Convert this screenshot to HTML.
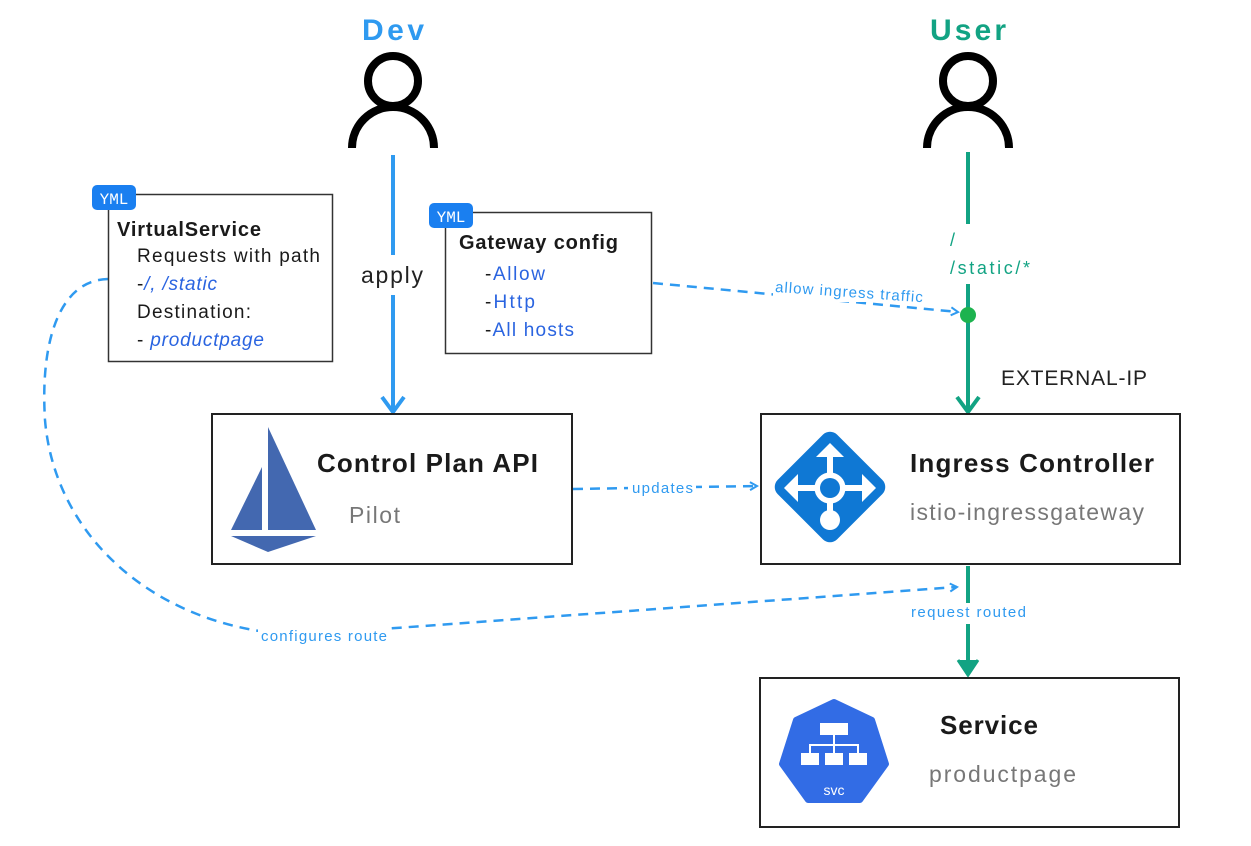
<!DOCTYPE html>
<html><head><meta charset="utf-8"><style>
body{margin:0;background:#fff;}
svg{display:block;font-family:"Liberation Sans",sans-serif;}
</style></head><body>
<svg width="1251" height="846" viewBox="0 0 1251 846">
<defs>
<marker id="ab" markerWidth="10" markerHeight="10" refX="8" refY="5" orient="auto" markerUnits="userSpaceOnUse"><path d="M1,1 L8,5 L1,9" fill="none" stroke="#2f9af0" stroke-width="2"/></marker>
</defs>
<text x="393" y="40" text-anchor="middle" font-size="30" font-weight="bold" fill="#2f9af0" textLength="62">Dev</text>
<text x="968" y="40" text-anchor="middle" font-size="30" font-weight="bold" fill="#12a383" textLength="76">User</text>
<g fill="none" stroke="#000" stroke-width="8">
<circle cx="393" cy="81" r="25"/>
<path d="M352,148 A41,41 0 0 1 434,148"/>
<circle cx="968" cy="81" r="25"/>
<path d="M927,148 A41,41 0 0 1 1009,148"/>
</g>
<line x1="393" y1="155" x2="393" y2="255" stroke="#2f9af0" stroke-width="4"/>
<line x1="393" y1="295" x2="393" y2="410" stroke="#2f9af0" stroke-width="4"/>
<path d="M382,397 L393,412 L404,397" fill="none" stroke="#2f9af0" stroke-width="4"/>
<text x="361" y="283" font-size="23" fill="#222" textLength="62">apply</text>
<line x1="968" y1="152" x2="968" y2="224" stroke="#12a383" stroke-width="4"/>
<line x1="968" y1="284" x2="968" y2="410" stroke="#12a383" stroke-width="4"/>
<path d="M957,397 L968,412 L979,397" fill="none" stroke="#12a383" stroke-width="4"/>
<text x="950" y="246" font-size="18" fill="#12a383">/</text>
<text x="950" y="274" font-size="18" fill="#12a383" textLength="80">/static/*</text>
<circle cx="968" cy="315" r="8" fill="#1db34f"/>
<text x="1001" y="385" font-size="21" fill="#222" textLength="146">EXTERNAL-IP</text>
<path d="M653,283 L958,312" fill="none" stroke="#2f9af0" stroke-width="2.5" stroke-dasharray="10,7" marker-end="url(#ab)"/>
<rect x="773" y="282" width="152" height="20" fill="#fff"/>
<text x="775" y="297" font-size="15" fill="#2f9af0" transform="rotate(4 849 292)" textLength="148">allow ingress traffic</text>
<path d="M573,489 L757,486" fill="none" stroke="#2f9af0" stroke-width="2.5" stroke-dasharray="10,7" marker-end="url(#ab)"/>
<rect x="628" y="478" width="68" height="18" fill="#fff"/>
<text x="632" y="493" font-size="15" fill="#2f9af0" textLength="61">updates</text>
<path d="M108,279 C60,280 40,340 45,420 C55,540 160,630 300,635 L957,587" fill="none" stroke="#2f9af0" stroke-width="2.5" stroke-dasharray="10,7" marker-end="url(#ab)"/>
<rect x="258" y="624" width="132" height="20" fill="#fff"/>
<text x="261" y="641" font-size="15" fill="#2f9af0" textLength="126">configures route</text>
<line x1="968" y1="566" x2="968" y2="603" stroke="#12a383" stroke-width="4"/>
<line x1="968" y1="624" x2="968" y2="674" stroke="#12a383" stroke-width="4"/>
<path d="M958,660 L968,675 L978,660" fill="#12a383" stroke="#12a383" stroke-width="3"/>
<text x="911" y="617" font-size="15" fill="#2f9af0" textLength="115">request routed</text>
<rect x="108.5" y="194.5" width="224" height="167" fill="#fff" stroke="#333" stroke-width="1.5"/>
<rect x="92" y="185" width="44" height="25" rx="5" fill="#1a7ff0"/>
<text x="114" y="204" text-anchor="middle" font-size="16" fill="#fff" font-family="Liberation Mono,monospace">YML</text>
<text x="117" y="236" font-size="20" font-weight="bold" fill="#1a1a1a" textLength="144">VirtualService</text>
<text x="137" y="262" font-size="19" fill="#1a1a1a" textLength="183">Requests with path</text>
<text x="137" y="290" font-size="19" fill="#1a1a1a" textLength="80">-<tspan fill="#2a64e0" font-style="italic">/, /static</tspan></text>
<text x="137" y="318" font-size="19" fill="#1a1a1a" textLength="114">Destination:</text>
<text x="137" y="346" font-size="19" fill="#1a1a1a" textLength="127">- <tspan fill="#2a64e0" font-style="italic">productpage</tspan></text>
<rect x="445.5" y="212.5" width="206" height="141" fill="#fff" stroke="#333" stroke-width="1.5"/>
<rect x="429" y="203" width="44" height="25" rx="5" fill="#1a7ff0"/>
<text x="451" y="222" text-anchor="middle" font-size="16" fill="#fff" font-family="Liberation Mono,monospace">YML</text>
<text x="459" y="249" font-size="20" font-weight="bold" fill="#1a1a1a" textLength="159">Gateway config</text>
<text x="485" y="280" font-size="19" fill="#1a1a1a" textLength="60">-<tspan fill="#2a64e0">Allow</tspan></text>
<text x="485" y="308" font-size="19" fill="#1a1a1a" textLength="50">-<tspan fill="#2a64e0">Http</tspan></text>
<text x="485" y="336" font-size="19" fill="#1a1a1a" textLength="89">-<tspan fill="#2a64e0">All hosts</tspan></text>
<rect x="212" y="414" width="360" height="150" fill="#fff" stroke="#222" stroke-width="2"/>
<g fill="#4368b0">
<path d="M268,427 L316,530 L268,530 Z"/>
<path d="M262,467 L262,530 L231,530 Z"/>
<path d="M231,536 L316,536 L268,552 Z"/>
</g>
<text x="317" y="472" font-size="26" font-weight="bold" fill="#1a1a1a" textLength="221">Control Plan API</text>
<text x="349" y="523" font-size="23" fill="#777" textLength="51">Pilot</text>
<rect x="761" y="414" width="419" height="150" fill="#fff" stroke="#222" stroke-width="2"/>
<rect x="788" y="445" width="84" height="84" rx="10" fill="#0f78d4" transform="rotate(45 830 487)"/>
<g fill="#fff" stroke="#fff">
<line x1="830" y1="455" x2="830" y2="515" stroke-width="6"/>
<line x1="796" y1="488" x2="864" y2="488" stroke-width="6"/>
<path d="M816,457 L830,443 L844,457 Z" stroke="none"/>
<path d="M798,474 L784,488 L798,502 Z" stroke="none"/>
<path d="M862,474 L876,488 L862,502 Z" stroke="none"/>
<circle cx="830" cy="488" r="15"/>
<circle cx="830" cy="520" r="10" stroke="none"/>
</g>
<circle cx="830" cy="488" r="10" fill="#0f78d4"/>
<text x="910" y="472" font-size="26" font-weight="bold" fill="#1a1a1a" textLength="244">Ingress Controller</text>
<text x="910" y="520" font-size="23" fill="#777" textLength="234">istio-ingressgateway</text>
<rect x="760" y="678" width="419" height="149" fill="#fff" stroke="#222" stroke-width="2"/>
<path d="M834,702 L872,720 L886,764 L860,800 L808,800 L782,764 L796,720 Z" fill="#326ce5" stroke="#326ce5" stroke-width="6" stroke-linejoin="round"/>
<g fill="#fff">
<rect x="820" y="723" width="28" height="12"/>
<rect x="801" y="753" width="18" height="12"/>
<rect x="825" y="753" width="18" height="12"/>
<rect x="849" y="753" width="18" height="12"/>
</g>
<g stroke="#fff" stroke-width="2" fill="none">
<path d="M834,735 L834,753 M810,753 L810,745 L858,745 L858,753"/>
</g>
<text x="834" y="795" text-anchor="middle" font-size="14" fill="#fff">svc</text>
<text x="940" y="734" font-size="26" font-weight="bold" fill="#1a1a1a" textLength="98">Service</text>
<text x="929" y="782" font-size="23" fill="#777" textLength="147">productpage</text>
</svg>
</body></html>
